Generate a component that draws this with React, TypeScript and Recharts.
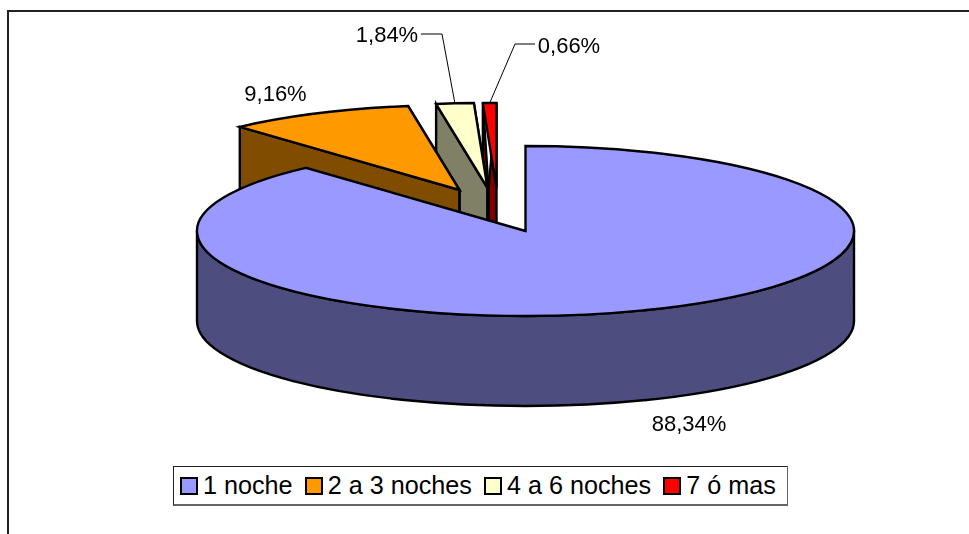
import React from "react";
import { PieChart, Pie, Legend } from "recharts";

const categories = ["1 noche", "2 a 3 noches", "4 a 6 noches", "7 ó mas"];
const shares = [88.34, 9.16, 1.84, 0.66];
const shareLabels = ["88,34%", "9,16%", "1,84%", "0,66%"];
const topColors = ["#9999FF", "#FF9900", "#FFFFCC", "#FF0000"];
const sideColors = ["#4D4D80", "#804D00", "#808066", "#800000"];

// explosion of each slice and its label placement, in px (by category)
const explodeX = [0, -66, -38, -29];
const explodeY = [0, -41, -43, -43];
const wallInset = [0, 0, 0, -8];
const labelX = [681, 267.5, 379, 561];
const labelY = [415, 85, 26, 37];
const elbowFrom = [null, null, [413, 26], [527, 36]];
const elbowTo = [null, null, [434, 26], [507, 36]];

const CX = 517.5;
const CY = 223;
const RX = 328.5;
const TILT = 85 / 328.5;
const DEPTH = 90;

// drawn back to front: the smallest slices first, going counter-clockwise from 12 o'clock
const rows = categories
  .map((name, i) => ({ name, value: shares[i], fill: topColors[i], side: sideColors[i], idx: i }))
  .reverse();

const rad = (a: number) => (a * Math.PI) / 180;

function rim(cx: number, cy: number, rx: number, a: number) {
  return [cx + rx * Math.cos(rad(a)), cy - rx * TILT * Math.sin(rad(a))];
}

function Slice3D(props: any) {
  const { cx, cy, outerRadius: rx, startAngle, endAngle, fill } = props;
  const idx = props.idx ?? props.payload?.idx;
  const side = props.side ?? props.payload?.side;
  const ax = cx + explodeX[idx];
  const ay = cy + explodeY[idx];
  const ry = rx * TILT;
  const [sx, sy] = rim(ax, ay, rx, startAngle);
  const [ex, ey] = rim(ax, ay, rx, endAngle);
  const large = endAngle - startAngle > 180 ? 1 : 0;
  const top = `M${ax},${ay} L${sx},${sy} A${rx},${ry} 0 ${large} 0 ${ex},${ey} Z`;
  const st = { stroke: "#000", strokeWidth: 2.4, strokeLinejoin: "miter" as const, strokeMiterlimit: 6 };

  let sideEl = null;
  const from = Math.max(startAngle, 180);
  const to = Math.min(endAngle, 360);
  if (to > from && idx === 0) {
    const [x1, y1] = rim(ax, ay, rx, from);
    const [x2, y2] = rim(ax, ay, rx, to);
    const d = `M${x1},${y1} L${x1},${y1 + DEPTH} A${rx},${ry} 0 0 0 ${x2},${y2 + DEPTH} L${x2},${y2} A${rx},${ry} 0 0 1 ${x1},${y1} Z`;
    sideEl = <path d={d} fill={side} {...st} />;
  }
  let wall = null;
  if (idx !== 0) {
    // the cut face on the far-left edge of the slice (its end angle when sweeping counter-clockwise)
    const wx = ax + wallInset[idx];
    const d = `M${ex},${ey} L${wx},${ay} L${wx},${ay + DEPTH} L${ex},${ey + DEPTH} Z`;
    const d2 = `M${sx},${sy} L${wx},${ay} L${wx},${ay + DEPTH} L${ax},${ay + DEPTH} L${ax},${ay} Z`;
    wall = (
      <g>
        <path d={d} fill={side} {...st} />
        <path d={d2} fill={side} {...st} />
      </g>
    );
  }
  return (
    <g>
      {wall}
      {sideEl}
      <path d={top} fill={fill} {...st} />
    </g>
  );
}

function SliceLabel(props: any) {
  const { cx, cy, outerRadius: rx, midAngle } = props;
  const idx = props.idx ?? props.payload?.idx;
  const [mx, my] = rim(cx + explodeX[idx], cy + explodeY[idx], rx, midAngle);
  const a = elbowFrom[idx];
  const b = elbowTo[idx];
  return (
    <g>
      {a && b ? (
        <polyline
          points={`${a[0]},${a[1]} ${b[0]},${b[1]} ${mx},${my}`}
          fill="none"
          stroke="#000"
          strokeWidth={1}
        />
      ) : null}
      <text
        x={labelX[idx]}
        y={labelY[idx]}
        textAnchor="middle"
        dominantBaseline="central"
        fontFamily="'Liberation Sans', Arial, sans-serif"
        fontSize={22}
        fill="#000"
      >
        {shareLabels[idx]}
      </text>
    </g>
  );
}

function LegendBox() {
  return (
    <div
      style={{
        boxSizing: "border-box",
        width: 615,
        height: 40,
        border: "1px solid #222",
        borderBottom: "2px solid #666",
        borderRight: "1px solid #666",
        background: "#fff",
        display: "flex",
        alignItems: "center",
        paddingLeft: 6,
        fontFamily: "'Liberation Sans', Arial, sans-serif",
        fontSize: 25.2,
        color: "#000",
        whiteSpace: "nowrap",
      }}
    >
      {categories.map((c, i) => (
        <span key={c} style={{ display: "inline-flex", alignItems: "center", marginRight: 12 }}>
          <span
            style={{
              boxSizing: "border-box",
              display: "inline-block",
              width: 18,
              height: 18,
              border: "2.5px solid #000",
              background: topColors[i],
              marginRight: 5,
            }}
          />
          {c}
        </span>
      ))}
    </div>
  );
}

export default function App() {
  return (
    <div style={{ position: "relative", width: 953, height: 518 }}>
      <div style={{ position: "fixed", left: 7, top: 10, width: 962, height: 2, background: "#222" }} />
      <div style={{ position: "fixed", left: 7, top: 10, width: 2, height: 524, background: "#222" }} />
      <PieChart width={953} height={518} margin={{ top: 0, right: 0, bottom: 0, left: 0 }}>
        <Pie
          data={rows}
          dataKey="value"
          nameKey="name"
          cx={CX}
          cy={CY}
          innerRadius={0}
          outerRadius={RX}
          startAngle={90}
          endAngle={450}
          stroke="#000"
          isAnimationActive={false}
          shape={Slice3D}
          label={SliceLabel}
          labelLine={false}
        />
        <Legend
          content={<LegendBox />}
          wrapperStyle={{ position: "absolute", left: 165, top: 458, width: 615, height: 40, bottom: "auto" }}
        />
      </PieChart>
    </div>
  );
}
